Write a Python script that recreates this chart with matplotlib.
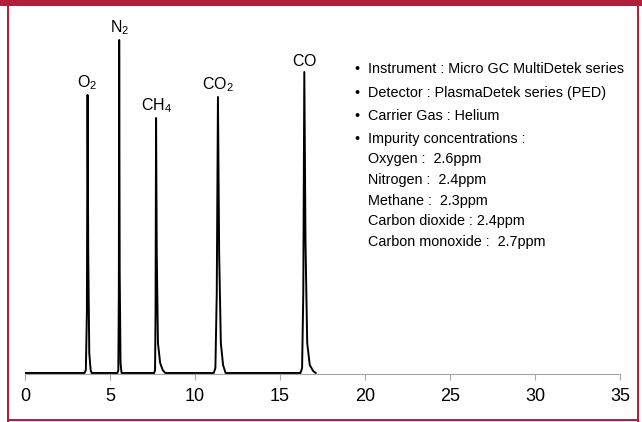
import matplotlib
matplotlib.use("Agg")
import matplotlib.pyplot as plt
from matplotlib.patches import Rectangle

# chromatogram trace (retention time [min], signal [a.u.])
time = [0.0, 3.50, 3.58, 3.64, 3.68, 3.72, 3.78, 3.86, 3.92,
        5.44, 5.49, 5.52, 5.54, 5.57, 5.62, 5.68,
        7.60, 7.65, 7.68, 7.71, 7.75, 7.82, 7.95, 8.10, 8.25,
        11.10, 11.20, 11.28, 11.35, 11.42, 11.52, 11.65, 11.80,
        16.20, 16.30, 16.37, 16.43, 16.50, 16.60, 16.75, 16.95, 17.10]
signal = [0, 0, 3, 60, 278, 120, 20, 3, 0,
          0, 3, 80, 333, 100, 10, 0,
          0, 3, 60, 255, 120, 30, 10, 3, 0,
          0, 5, 80, 276, 120, 30, 8, 0,
          0, 5, 80, 301, 130, 30, 8, 2, 0]

# peak labels
peak_names = [r"$\mathrm{O_2}$", r"$\mathrm{N_2}$", r"$\mathrm{CH_4}$", r"$\mathrm{CO_2}$", r"$\mathrm{CO}$"]
peak_times = [3.68, 5.54, 7.71, 11.35, 16.43]
peak_heights = [278, 333, 255, 276, 301]

bullets = ["Instrument : Micro GC MultiDetek series",
           "Detector : PlasmaDetek series (PED)",
           "Carrier Gas : Helium",
           "Impurity concentrations :"]
impurities = ["Oxygen :  2.6ppm",
              "Nitrogen :  2.4ppm",
              "Methane :  2.3ppm",
              "Carbon dioxide : 2.4ppm",
              "Carbon monoxide :  2.7ppm"]

plt.rcParams['font.family'] = ['Liberation Sans', 'DejaVu Sans']
plt.rcParams['mathtext.fontset'] = 'custom'
plt.rcParams['mathtext.rm'] = 'Liberation Sans'
plt.rcParams['mathtext.it'] = 'Liberation Sans:italic'

W, H = 642, 422
fig = plt.figure(figsize=(W / 100, H / 100), dpi=100)
ax = fig.add_axes([25 / W, 1 - 374 / H, 595 / W, 364 / H])

ax.plot(time, signal, color='black', linewidth=1.4)
ax.set_xlim(0, 35)
ax.set_ylim(-1, 363)
ax.set_xticks(range(0, 36, 5))
ax.set_yticks([])
for s in ['top', 'right', 'left']:
    ax.spines[s].set_visible(False)
ax.spines['bottom'].set_color('#a6a6a6')
ax.tick_params(axis='x', colors='#a6a6a6', length=4, labelcolor='black',
               labelsize=13, pad=6)

for name, t, h in zip(peak_names, peak_times, peak_heights):
    ax.text(t, h + 3, name, ha='center', va='bottom', fontsize=11.5)

# notes on the right
y = 69
for line in bullets:
    fig.text(354 / W, 1 - y / H, "\u2022", ha='left', va='center', fontsize=10.4)
    fig.text(368 / W, 1 - y / H, line, ha='left', va='center', fontsize=10.4)
    y += 23.5
y = 159
for line in impurities:
    fig.text(368 / W, 1 - y / H, line, ha='left', va='center', fontsize=10.4)
    y += 20.8

# crimson frame
red = '#b31e3d'
fig.add_artist(Rectangle((0, 1 - 6 / H), 1, 6 / H, transform=fig.transFigure,
                         color=red, lw=0))
fig.add_artist(Rectangle((7 / W, 0), 2 / W, 1, transform=fig.transFigure,
                         color=red, lw=0))
fig.add_artist(Rectangle((637 / W, 0), 2 / W, 1, transform=fig.transFigure,
                         color=red, lw=0))
fig.add_artist(Rectangle((7 / W, 1 / H), 632 / W, 2 / H, transform=fig.transFigure,
                         color=red, lw=0))

fig.savefig("out.png", dpi=100)
